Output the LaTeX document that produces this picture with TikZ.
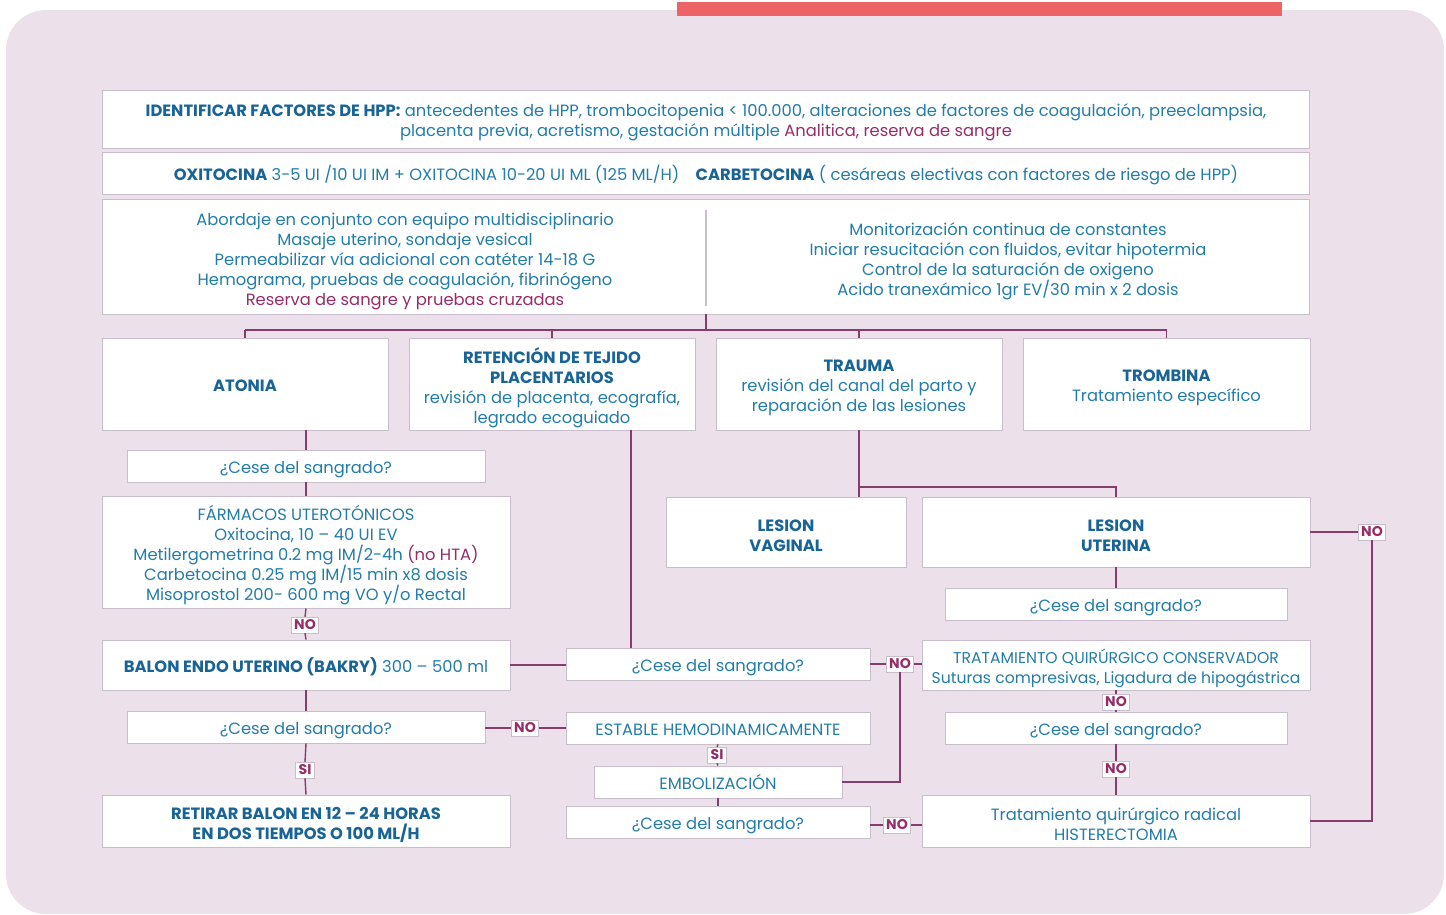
\documentclass[tikz,border=0pt]{standalone}
\usepackage{fontspec}
\setmainfont{Poppins}
\usepackage{tikz}
\usetikzlibrary{positioning}
\definecolor{bgmauve}{RGB}{236, 225, 235}
\definecolor{redbar}{RGB}{236, 100, 102}
\definecolor{txtblue}{RGB}{35, 125, 170}
\definecolor{headblue}{RGB}{25, 100, 150}
\definecolor{magtext}{RGB}{150, 45, 105}
\definecolor{linepurple}{RGB}{135, 60, 110}
\definecolor{boxedge}{RGB}{200, 190, 205}
\newcommand{\hdtxt}[1]{\textcolor{headblue}{\bfseries #1}}

\begin{document}
\begin{tikzpicture}[
          x=0.02cm, y=-0.02cm,
          box/.style={draw=boxedge, fill=white, line width=0.5pt, inner sep=0pt,
                      font=\fontsize{9.3}{11.4}\selectfont, text=txtblue, align=center},
          txt/.style={font=\fontsize{9.3}{11.4}\selectfont, text=txtblue, align=center,
                      inner sep=0pt, yshift=-2pt},
          txtone/.style={txt, text height=7pt, text depth=2.5pt},
          lbl/.style={draw=boxedge, fill=white, line width=0.4pt, inner sep=1.6pt,
                      font=\fontsize{8}{9}\selectfont\bfseries, text=magtext},
          conn/.style={draw=linepurple, line width=0.8pt}
        ]
        \useasboundingbox (0,0) rectangle (1446,914);
        \fill[bgmauve, rounded corners=0.8cm] (6,10) rectangle (1444,914);
        \fill[redbar] (677,2) rectangle (1282,16);

        % cabecera
        \node[box, minimum width=24.16cm, minimum height=1.16cm] (idf) at (706,119) {};
        \node[txt] at (idf)
          {\hdtxt{IDENTIFICAR FACTORES DE HPP:} antecedentes de HPP, trombocitopenia < 100.000, alteraciones de factores de coagulación, preeclampsia,\\
           placenta previa, acretismo, gestación múltiple \textcolor{magtext}{Analitica, reserva de sangre}};
        \node[box, minimum width=24.16cm, minimum height=0.84cm] (oxi) at (706,173) {};
        \node[txtone] at (oxi)
          {\hdtxt{OXITOCINA} 3-5 UI /10 UI IM + OXITOCINA 10-20 UI ML (125 ML/H)\quad
           \hdtxt{CARBETOCINA} ( cesáreas electivas con factores de riesgo de HPP)};
        \node[box, minimum width=24.16cm, minimum height=2.30cm] (big) at (706,256.5) {};
        \draw[boxedge, line width=0.6pt] (706,210) -- (706,306);
        \node[txt] (medidas) at (405,258)
          {Abordaje en conjunto con equipo multidisciplinario\\
           Masaje uterino, sondaje vesical\\
           Permeabilizar vía adicional con catéter 14-18 G\\
           Hemograma, pruebas de coagulación, fibrinógeno\\
           \textcolor{magtext}{Reserva de sangre y pruebas cruzadas}};
        \node[txt] (soporte) at (1008,258)
          {Monitorización continua de constantes\\
           Iniciar resucitación con fluidos, evitar hipotermia\\
           Control de la saturación de oxigeno\\
           Acido tranexámico 1gr EV/30 min x 2 dosis};

        % causas
        \node[box, minimum width=5.72cm, minimum height=1.84cm] (atonia) at (245,384) {};
        \node[txtone] at (atonia) {\hdtxt{ATONIA}};
        \node[box, minimum width=5.72cm, minimum height=1.84cm] (reten) at (552,384) {};
        \node[txt] at (reten)
          {\hdtxt{RETENCIÓN DE TEJIDO}\\ \hdtxt{PLACENTARIOS}\\
           revisión de placenta, ecografía,\\ legrado ecoguiado};
        \node[box, minimum width=5.72cm, minimum height=1.84cm] (trauma) at (859,384) {};
        \node[txt] at (trauma)
          {\hdtxt{TRAUMA}\\
           revisión del canal del parto y\\ reparación de las lesiones};
        \node[box, minimum width=5.74cm, minimum height=1.84cm] (trombina) at (1166.5,384) {};
        \node[txt] at (trombina) {\hdtxt{TROMBINA}\\ Tratamiento específico};
        \coordinate (bus) at (706,330);
        \draw[conn] (big.south) -- (bus);
        \draw[conn] (atonia.north |- bus) -- (trombina.north |- bus);
        \foreach \c in {atonia, reten, trauma, trombina}
          \draw[conn] (\c.north |- bus) -- (\c.north);

        % rama atonia
        \node[box, minimum width=7.16cm, minimum height=0.64cm] (cese1) at (306,466) {};
        \node[txtone] at (cese1) {¿Cese del sangrado?};
        \node[box, minimum width=8.16cm, minimum height=2.24cm] (farm) at (306,552) {};
        \node[txt] at (farm)
          {FÁRMACOS UTEROTÓNICOS\\
           Oxitocina, 10 – 40 UI EV\\
           Metilergometrina 0.2 mg IM/2-4h \textcolor{magtext}{(no HTA)}\\
           Carbetocina 0.25 mg IM/15 min x8 dosis\\
           Misoprostol 200- 600 mg VO y/o Rectal};
        \node[box, minimum width=8.16cm, minimum height=1.0cm] (balon) at (306,665) {};
        \node[txtone] at (balon) {\hdtxt{BALON ENDO UTERINO (BAKRY)} 300 – 500 ml};
        \node[box, minimum width=7.16cm, minimum height=0.64cm] (cese2) at (306,727) {};
        \node[txtone] at (cese2) {¿Cese del sangrado?};
        \node[box, minimum width=8.16cm, minimum height=1.04cm] (retirar) at (306,821) {};
        \node[txt] at (retirar)
          {\hdtxt{RETIRAR BALON EN 12 – 24 HORAS}\\ \hdtxt{EN DOS TIEMPOS O 100 ML/H}};
        \node[lbl] (no1) at (305,625) {NO};
        \node[lbl] (si1) at (305,770) {SI};
        \draw[conn] (atonia.south -| cese1.north) -- (cese1.north);
        \draw[conn] (cese1.south) -- (farm.north);
        \draw[conn] (farm.south) -- (no1.north);
        \draw[conn] (no1.south) -- (balon.north);
        \draw[conn] (balon.south) -- (cese2.north);
        \draw[conn] (cese2.south) -- (si1.north);
        \draw[conn] (si1.south) -- (retirar.north);

        % columna central
        \node[box, minimum width=6.08cm, minimum height=0.64cm] (cese3) at (718,664) {};
        \node[txtone] at (cese3) {¿Cese del sangrado?};
        \node[box, minimum width=6.08cm, minimum height=0.64cm] (estable) at (718,728) {};
        \node[txtone] at (estable) {ESTABLE HEMODINAMICAMENTE};
        \node[box, minimum width=4.96cm, minimum height=0.64cm] (emboliz) at (718,782) {};
        \node[txtone] at (emboliz) {EMBOLIZACIÓN};
        \node[box, minimum width=6.08cm, minimum height=0.64cm] (cese4) at (718,822) {};
        \node[txtone] at (cese4) {¿Cese del sangrado?};
        \node[lbl] (no2) at (525,728) {NO};
        \node[lbl] (si2) at (717,755) {SI};
        \node[lbl] (no3) at (900,664) {NO};
        \node[lbl] (no4) at (897,825) {NO};
        \coordinate (rt) at (631,430);
        \draw[conn] (rt) -- (rt |- cese3.north);
        \draw[conn] (balon.east) -- (balon.east -| cese3.west);
        \draw[conn] (cese2.east |- no2) -- (no2.west);
        \draw[conn] (no2.east) -- (estable.west);
        \draw[conn] (estable.south) -- (si2.north);
        \draw[conn] (si2.south) -- (emboliz.north);
        \draw[conn] (emboliz.south) -- (cese4.north);
        \draw[conn] (emboliz.east) -| (no3.south);

        % rama trauma
        \node[box, minimum width=4.8cm, minimum height=1.4cm] (vaginal) at (786,532) {};
        \node[txt] at (vaginal) {\hdtxt{LESION}\\ \hdtxt{VAGINAL}};
        \node[box, minimum width=7.76cm, minimum height=1.4cm] (uterina) at (1116,532) {};
        \node[txt] at (uterina) {\hdtxt{LESION}\\ \hdtxt{UTERINA}};
        \node[box, minimum width=6.84cm, minimum height=0.64cm] (cese5) at (1116,604) {};
        \node[txtone] at (cese5) {¿Cese del sangrado?};
        \node[box, minimum width=7.76cm, minimum height=1.0cm] (tqc) at (1116,665) {};
        \node[txt, font=\fontsize{8.9}{11.4}\selectfont] at (tqc)
          {TRATAMIENTO QUIRÚRGICO CONSERVADOR\\ Suturas compresivas, Ligadura de hipogástrica};
        \node[box, minimum width=6.84cm, minimum height=0.64cm] (cese6) at (1116,728) {};
        \node[txtone] at (cese6) {¿Cese del sangrado?};
        \node[box, minimum width=7.76cm, minimum height=1.04cm] (radical) at (1116,821) {};
        \node[txt] at (radical) {Tratamiento quirúrgico radical\\ HISTERECTOMIA};
        \node[lbl] (no5) at (1116,702) {NO};
        \node[lbl] (no6) at (1116,769) {NO};
        \node[lbl] (no7) at (1372,532) {NO};
        \coordinate (tj) at (859,487);
        \draw[conn] (trauma.south) -- (trauma.south |- vaginal.north);
        \draw[conn] (tj) -| (uterina.north);
        \draw[conn] (uterina.south) -- (cese5.north);
        \draw[conn] (cese3.east |- no3) -- (no3.west);
        \draw[conn] (no3.east) -- (no3.east -| tqc.west);
        \draw[conn] (cese4.east |- no4) -- (no4.west);
        \draw[conn] (no4.east) -- (no4.east -| radical.west);
        \draw[conn] (tqc.south) -- (no5.north);
        \draw[conn] (no5.south) -- (cese6.north);
        \draw[conn] (cese6.south) -- (no6.north);
        \draw[conn] (no6.south) -- (radical.north);
        \draw[conn] (uterina.east) -- (no7.west |- uterina.east);
        \draw[conn] (no7.south) |- (radical.east);
      \end{tikzpicture}
\end{document}
